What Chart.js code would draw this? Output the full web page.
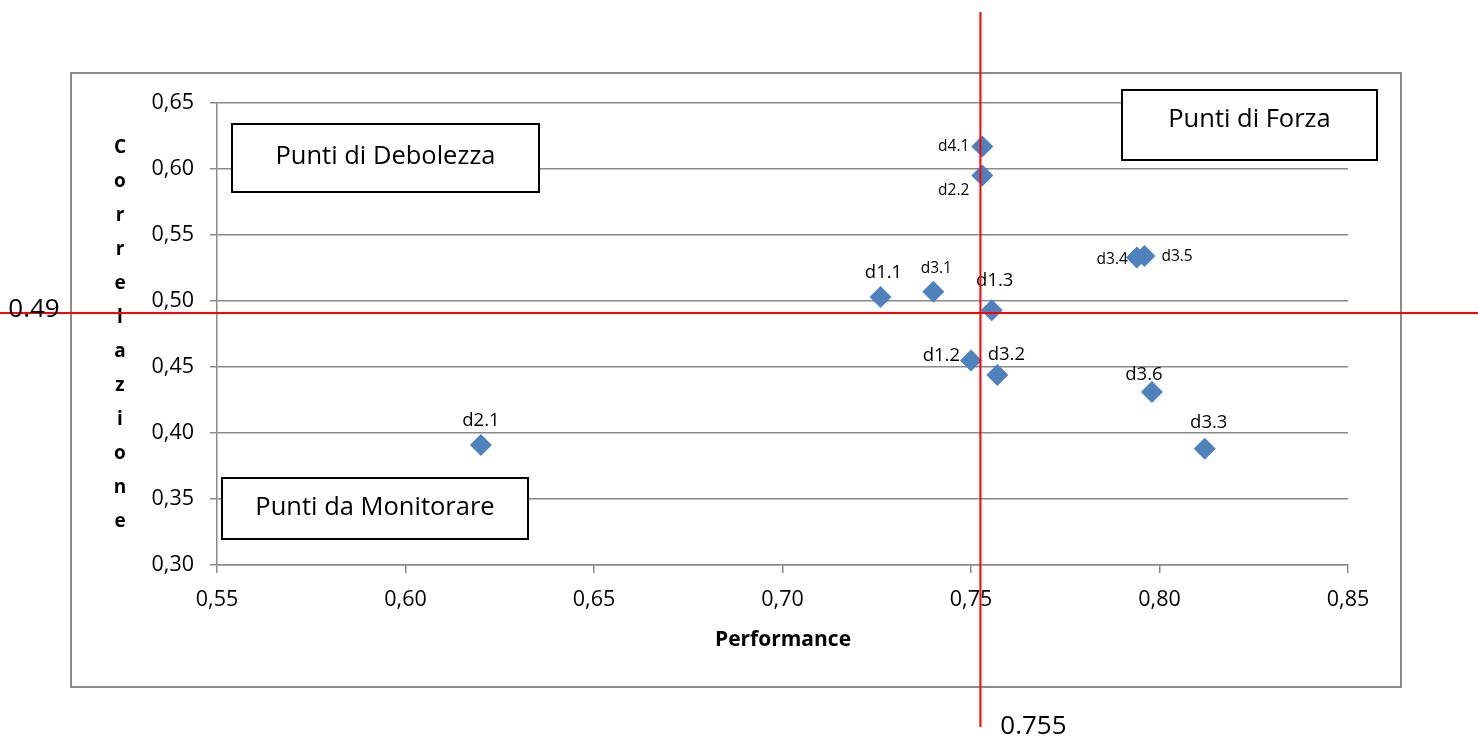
<!DOCTYPE html>
<html>
<head>
<meta charset="utf-8">
<script src="https://cdn.jsdelivr.net/npm/chart.js@4.4.1/dist/chart.umd.min.js"></script>
<style>
  html, body { margin: 0; padding: 0; background: #fff; }
  canvas { display: block; }
</style>
</head>
<body>
<canvas id="matrice" width="1478" height="740"></canvas>
<script>
// =============================
// Dati
// =============================
const etichette    = ['d1.1', 'd1.2', 'd1.3', 'd2.1', 'd2.2', 'd3.1', 'd3.2', 'd3.3', 'd3.4', 'd3.5', 'd3.6', 'd4.1'];
const performance  = [0.726, 0.750, 0.7555, 0.620, 0.753, 0.740, 0.757, 0.812, 0.794, 0.796, 0.798, 0.753];
const correlazione = [0.503, 0.455, 0.493, 0.391, 0.595, 0.507, 0.444, 0.388, 0.533, 0.534, 0.431, 0.617];

const ticksX = [0.55, 0.60, 0.65, 0.70, 0.75, 0.80, 0.85];
const ticksY = [0.30, 0.35, 0.40, 0.45, 0.50, 0.55, 0.60, 0.65];

// soglie (linee rosse): posizione come appare nel grafico, testo come scritto
const sogliaX = 0.7525, sogliaXTesto = '0.755';
const sogliaY = 0.491,  sogliaYTesto = '0.49';

const quadranti = ['Punti di Debolezza', 'Punti di Forza', 'Punti da Monitorare'];

// =============================
// Stili
// =============================
const FONT = '"Open Sans", "Liberation Sans", sans-serif';
const GRIGIO = '#8a8a8a';
const BLU = '#4f81bd';

// posizione etichette: [allineamento, dx, dy, dimensione]
const posEtichette = {
  'd1.1': ['center', 3, -24, 18.5],
  'd1.2': ['right', -11, -5, 18.5],
  'd1.3': ['center', 3, -30, 18.5],
  'd2.1': ['center', 0, -24, 18.5],
  'd2.2': ['right', -13, 15, 15.5],
  'd3.1': ['center', 3, -23, 15.5],
  'd3.2': ['center', 9, -20, 18.5],
  'd3.3': ['center', 4, -26, 18.5],
  'd3.4': ['right', -9, 2, 15.5],
  'd3.5': ['left', 17, 0, 15.5],
  'd3.6': ['center', -8, -17, 18.5],
  'd4.1': ['right', -13, 0, 15.5]
};

// riquadri dei quadranti [x, y, w, h, spostamento testo]
const boxQuadranti = [
  [232, 124, 307, 68, -1],
  [1122, 90, 255, 70, -5],
  [222, 478, 306, 61, -1]
];

const fmt = v => v.toFixed(2).replace('.', ',');

// =============================
// Plugin: cornice, titoli, etichette, riquadri, linee rosse
// =============================
const cornice = {
  id: 'cornice',
  beforeDraw(chart) {
    const c = chart.ctx;
    c.save();
    c.fillStyle = '#fff';
    c.fillRect(0, 0, chart.width, chart.height);
    c.strokeStyle = GRIGIO;
    c.lineWidth = 2;
    c.strokeRect(71, 73, 1330, 614);
    c.restore();
  }
};

const decorazioni = {
  id: 'decorazioni',
  afterDraw(chart) {
    const c = chart.ctx;
    const xs = chart.scales.x, ys = chart.scales.y;
    const meta = chart.getDatasetMeta(0);
    c.save();

    // etichette dei punti
    c.fillStyle = '#000';
    c.textBaseline = 'middle';
    meta.data.forEach((pt, i) => {
      const p = posEtichette[etichette[i]];
      c.font = p[3] + 'px ' + FONT;
      c.textAlign = p[0];
      c.fillText(etichette[i], pt.x + p[1], pt.y + p[2]);
    });

    // titolo asse x
    c.font = 'bold 21px ' + FONT;
    c.textAlign = 'center';
    c.fillText('Performance', 783, 640);

    // titolo asse y, lettere in colonna
    c.font = 'bold 19px ' + FONT;
    'Correlazione'.split('').forEach((ch, i) => {
      c.fillText(ch, 120, 148 + i * 34);
    });

    // riquadri
    c.lineWidth = 2;
    c.strokeStyle = '#000';
    c.font = '25.5px ' + FONT;
    boxQuadranti.forEach((b, i) => {
      c.fillStyle = '#fff';
      c.fillRect(b[0], b[1], b[2], b[3]);
      c.strokeRect(b[0], b[1], b[2], b[3]);
      c.fillStyle = '#000';
      c.fillText(quadranti[i], b[0] + b[2] / 2, b[1] + b[3] / 2 + b[4]);
    });

    // linee rosse di soglia
    const px = xs.getPixelForValue(sogliaX);
    const py = ys.getPixelForValue(sogliaY);
    c.strokeStyle = '#ff0000';
    c.lineWidth = 2;
    c.beginPath();
    c.moveTo(px, 12);
    c.lineTo(px, 727);
    c.moveTo(0, py);
    c.lineTo(chart.width, py);
    c.stroke();

    c.font = '26px ' + FONT;
    c.fillStyle = '#000';
    c.textAlign = 'center';
    c.fillText(sogliaYTesto, 34, py - 3);
    c.fillText(sogliaXTesto, px + 53, 727);

    c.restore();
  }
};

// =============================
// Grafico
// =============================
const ctx = document.getElementById('matrice');
const matrice = new Chart(ctx, {
  type: 'scatter',
  data: {
    datasets: [{
      label: 'Correlazione / Performance',
      data: performance.map((v, i) => ({ x: v, y: correlazione[i] })),
      pointStyle: 'rectRot',
      pointRadius: 11,
      pointHoverRadius: 11,
      backgroundColor: BLU,
      borderColor: BLU,
      borderWidth: 0
    }]
  },
  options: {
    responsive: false,
    animation: false,
    devicePixelRatio: 1,
    layout: { padding: { left: 0, top: 103, right: 130, bottom: 0 } },
    plugins: {
      legend: { display: false },
      tooltip: { enabled: false }
    },
    scales: {
      x: {
        type: 'linear',
        min: 0.55,
        max: 0.85,
        afterBuildTicks: s => { s.ticks = ticksX.map(v => ({ value: v })); },
        afterFit: s => { s.height = 175; },
        grid: { drawOnChartArea: false, drawTicks: true, tickLength: 8, color: GRIGIO, lineWidth: 1.5 },
        border: { color: GRIGIO, width: 1.5 },
        ticks: { color: '#000', font: { family: FONT, size: 21.5 }, padding: 14, maxRotation: 0, callback: v => fmt(v) }
      },
      y: {
        type: 'linear',
        min: 0.30,
        max: 0.65,
        afterBuildTicks: s => { s.ticks = ticksY.map(v => ({ value: v })); },
        afterFit: s => { s.width = 217; },
        grid: { drawTicks: true, tickLength: 7, color: GRIGIO, lineWidth: 1.5 },
        border: { color: GRIGIO, width: 1.5 },
        ticks: { color: '#000', font: { family: FONT, size: 21.5 }, padding: 16, callback: v => fmt(v) }
      }
    }
  },
  plugins: [cornice, decorazioni]
});
</script>
</body>
</html>
